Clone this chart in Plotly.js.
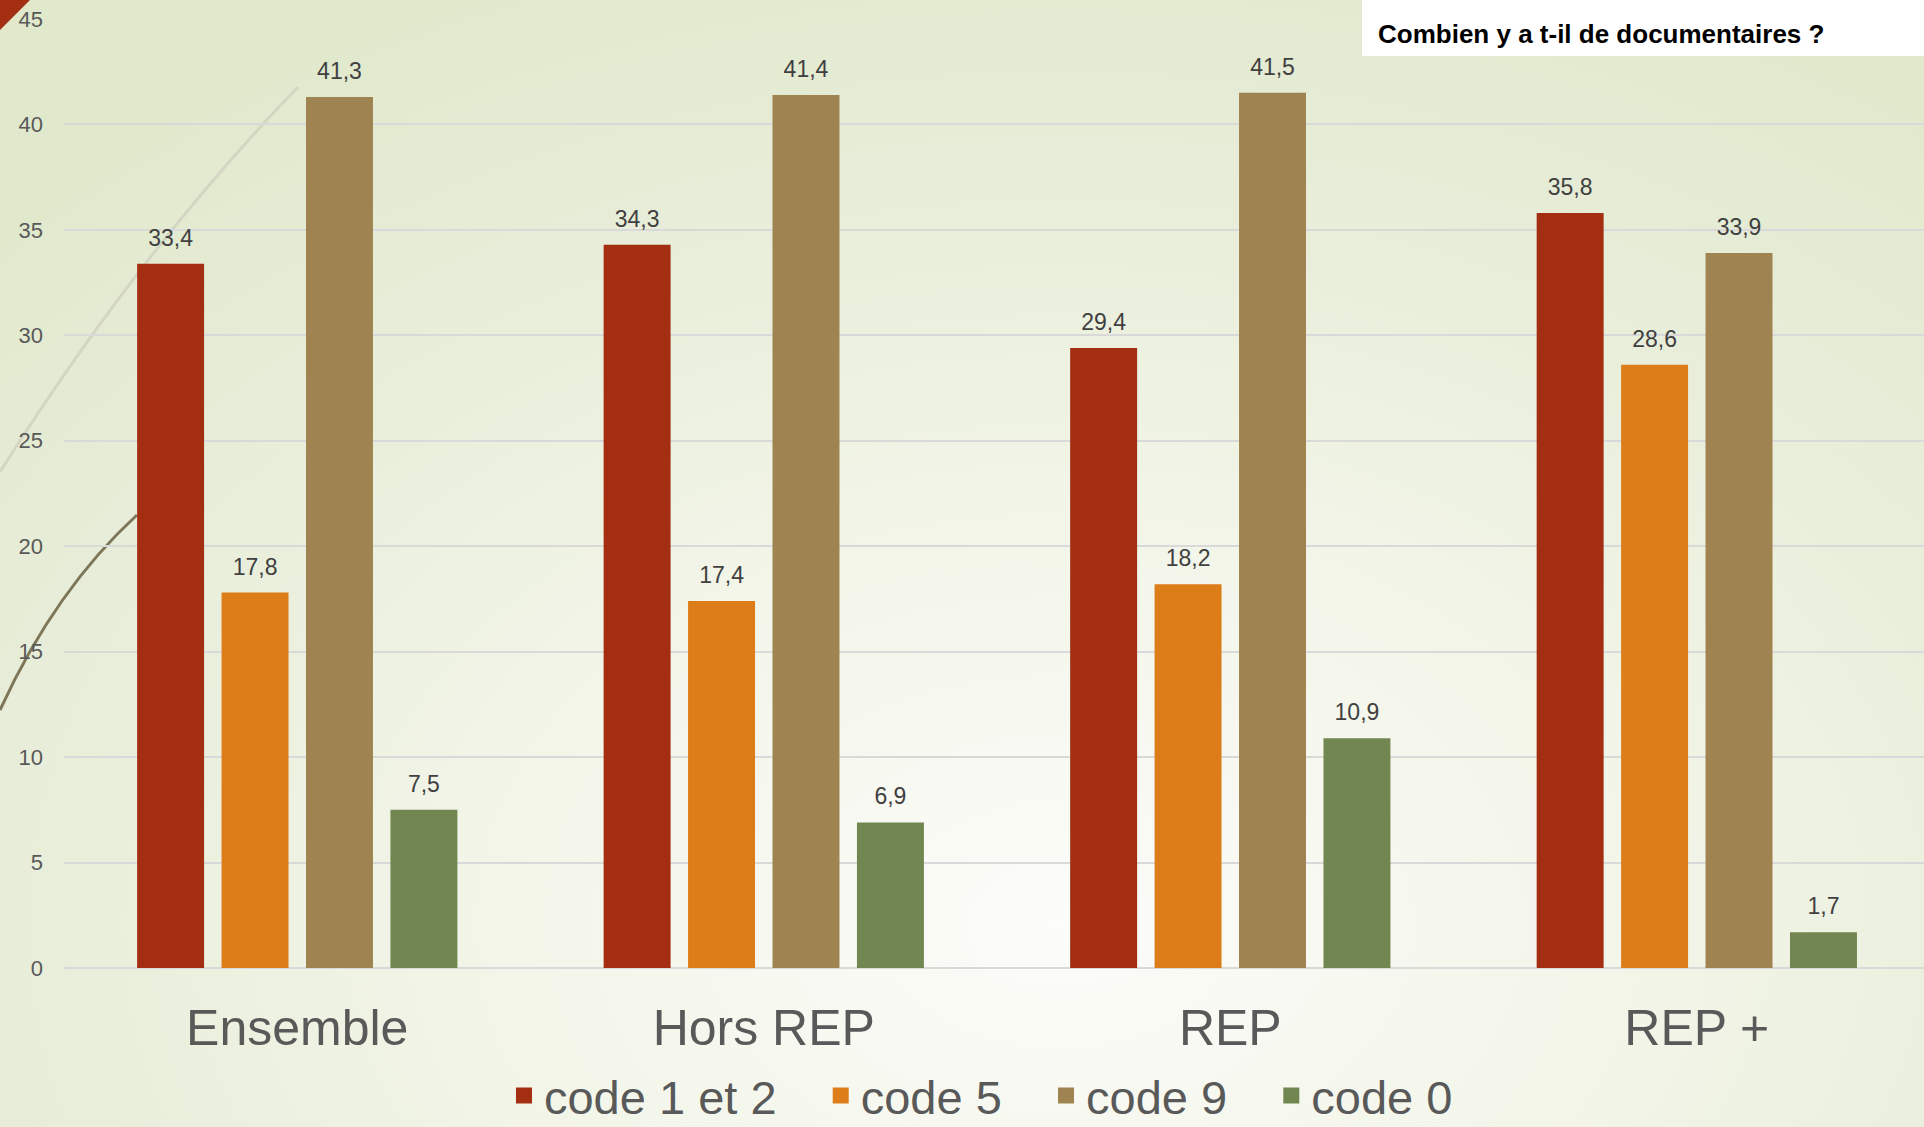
<!DOCTYPE html>
<html>
<head>
<meta charset="utf-8">
<script src="https://cdn.plot.ly/plotly-3.0.1.min.js"></script>
<style>
  html, body { margin: 0; padding: 0; width: 1924px; height: 1127px; overflow: hidden; }
  body { background: radial-gradient(ellipse 75% 90% at 55% 82%, #fcfcf9 0%, #f2f5e8 40%, #e7edd8 75%, #e1e9cd 100%); }
  #chart { width: 1924px; height: 1127px; }
</style>
</head>
<body>
<div id="chart"></div>
<script>
const categories = ["Ensemble", "Hors REP", "REP", "REP +"];
const seriesNames = ["code 1 et 2", "code 5", "code 9", "code 0"];
const code12 = [33.4, 34.3, 29.4, 35.8];
const code5 = [17.8, 17.4, 18.2, 28.6];
const code9 = [41.3, 41.4, 41.5, 33.9];
const code0 = [7.5, 6.9, 10.9, 1.7];
const yTicks = [0, 5, 10, 15, 20, 25, 30, 35, 40, 45];
const titleText = "Combien y a t-il de documentaires ?";

const colors = ["#a42e11", "#dd7d19", "#9f8350", "#728652"];
const seriesValues = [code12, code5, code9, code0];

const FONT = "Liberation Sans, Arial, sans-serif";
const NBSP = "\u00a0";

// Plot area geometry (pixels) used to place decorative shapes in paper coords
const L = 64, T = 19, W = 1924, H = 1127, B = 968;
const PW = W - L, PH = B - T;
const px = x => (x - L) / PW;
const py = y => (B - y) / PH;

const barTraces = seriesValues.map((vals, i) => ({
  type: "bar",
  name: seriesNames[i],
  legendgroup: "g" + i,
  offsetgroup: "g" + i,
  showlegend: false,
  x: categories,
  y: vals,
  marker: { color: colors[i], line: { width: 0 } },
  hoverinfo: "x+y+name"
}));

// value labels, grouped like the bars (scattermode group)
const labelTraces = seriesValues.map((vals, i) => ({
  type: "scatter",
  mode: "markers+text",
  name: seriesNames[i],
  legendgroup: "g" + i,
  offsetgroup: "g" + i,
  showlegend: false,
  x: categories,
  y: vals,
  marker: { size: 18, opacity: 0, color: colors[i] },
  texttemplate: "%{y:.1f}",
  textposition: "top center",
  textfont: { family: FONT, size: 23, color: "#404040" },
  cliponaxis: false,
  hoverinfo: "skip"
}));

// legend-only entries (no plotted points) so the legend swatches are squares
const legendTraces = seriesNames.map((n, i) => ({
  type: "scatter",
  mode: "markers",
  name: n + NBSP + NBSP + NBSP,
  legendgroup: "g" + i,
  x: [null],
  y: [null],
  marker: { symbol: "square", size: 21, color: colors[i] },
  showlegend: true,
  hoverinfo: "skip"
}));

const lightCurve = `M ${px(298)},${py(87)} Q ${px(140)},${py(250)} ${px(0)},${py(472)}`;
const darkCurve = `M ${px(137)},${py(515)} Q ${px(55)},${py(590)} ${px(0)},${py(710)}`;
const tri = `M ${px(0)},${py(0)} L ${px(30)},${py(0)} L ${px(0)},${py(30)} Z`;

const layout = {
  width: 1924,
  height: 1127,
  margin: { l: L, r: 0, t: T, b: H - B, pad: 0 },
  paper_bgcolor: "rgba(0,0,0,0)",
  plot_bgcolor: "rgba(0,0,0,0)",
  separators: ", ",
  barmode: "group",
  bargap: 0.276,
  bargroupgap: 0.207,
  scattermode: "group",
  scattergap: 0.276,
  font: { family: FONT, color: "#595959" },
  xaxis: {
    type: "category",
    range: [-0.5, 3.487],
    showgrid: false,
    showline: false,
    zeroline: false,
    ticks: "",
    tickfont: { family: FONT, size: 50, color: "#595959" },
    ticklabelstandoff: 26,
    automargin: false
  },
  yaxis: {
    range: [0, 45],
    tickvals: yTicks,
    ticktext: yTicks.map(String),
    showgrid: true,
    gridcolor: "#d9d9d9",
    gridwidth: 2,
    zeroline: true,
    zerolinecolor: "#d9d9d9",
    zerolinewidth: 2,
    showline: false,
    ticks: "",
    tickfont: { family: FONT, size: 22, color: "#595959" },
    ticklabelstandoff: 20,
    automargin: false
  },
  showlegend: true,
  legend: {
    orientation: "h",
    xref: "container",
    yref: "container",
    x: 0.52,
    xanchor: "center",
    y: (H - 1096) / H,
    yanchor: "middle",
    font: { family: FONT, size: 47, color: "#595959" },
    bgcolor: "rgba(0,0,0,0)",
    itemsizing: "trace",
    itemclick: false
  },
  shapes: [
    { type: "rect", xref: "paper", yref: "paper", x0: px(1362), x1: px(1924), y0: py(0), y1: py(56),
      fillcolor: "#ffffff", line: { width: 0 }, layer: "below" },
    { type: "path", xref: "paper", yref: "paper", path: lightCurve, line: { color: "#d3d6c3", width: 3 }, layer: "below" },
    { type: "path", xref: "paper", yref: "paper", path: darkCurve, line: { color: "#7d7658", width: 3 }, layer: "below" },
    { type: "path", xref: "paper", yref: "paper", path: tri, fillcolor: "#a42e11", line: { width: 0 }, layer: "above" }
  ],
  annotations: [
    { text: titleText, xref: "paper", yref: "paper", x: px(1376), y: py(34), xanchor: "left", yanchor: "middle",
      showarrow: false, font: { family: FONT, size: 26, color: "#000000", weight: "bold" } }
  ]
};

Plotly.newPlot("chart", barTraces.concat(labelTraces, legendTraces), layout, { displayModeBar: false, staticPlot: true });
</script>
</body>
</html>
